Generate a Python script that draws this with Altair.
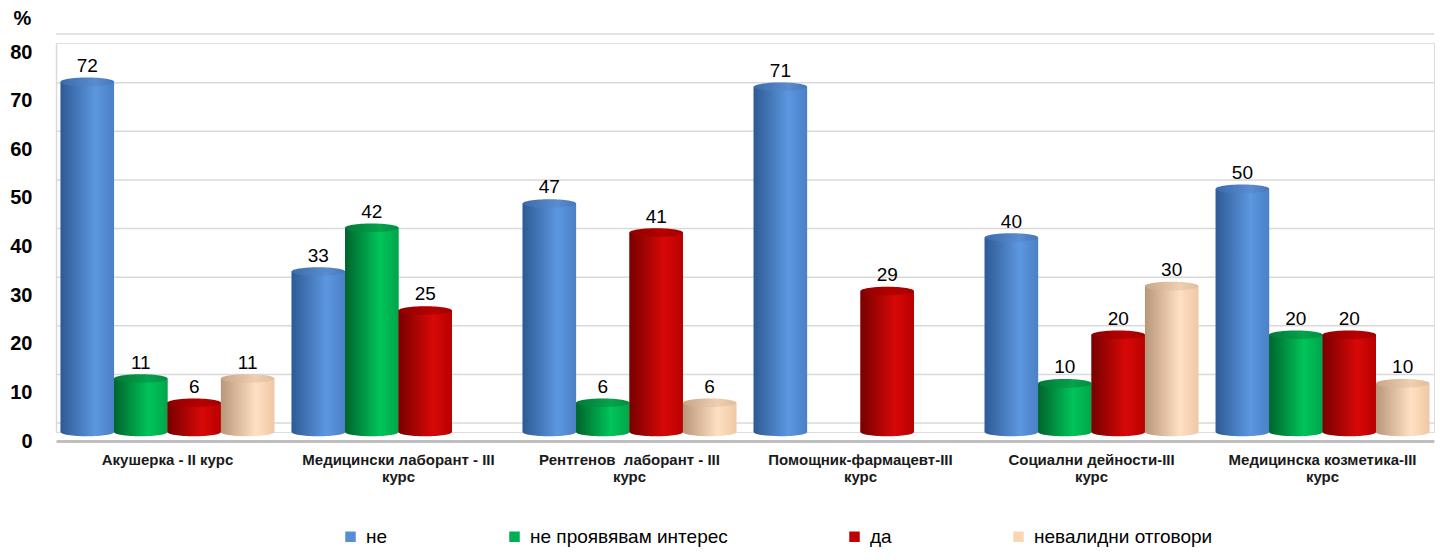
import altair as alt
import pandas as pd

categories = [
    "Акушерка - II курс",
    "Медицински лаборант - III курс",
    "Рентгенов  лаборант - III курс",
    "Помощник-фармацевт-III курс",
    "Социални дейности-III курс",
    "Медицинска козметика-III курс",
]
series = ["не", "не проявявам интерес", "да", "невалидни отговори"]
val_ne = [72, 33, 47, 71, 40, 50]
val_no_interest = [11, 42, 6, None, 10, 20]
val_da = [6, 25, 41, 29, 20, 20]
val_invalid = [11, None, 6, None, 30, 10]
y_ticks = [0, 10, 20, 30, 40, 50, 60, 70, 80]

legend_colors = ["#558ED5", "#00B050", "#C00000", "#FCD5B5"]
# (left dark, highlight, right) for cylinder shading
body_stops = [
    ("#2E5A94", "#5C97E0", "#4A80C6"),
    ("#00642C", "#00C45A", "#00A64A"),
    ("#780000", "#D80808", "#B80000"),
    ("#B8967A", "#FFE0C2", "#EEC8A6"),
]
top_stops = [
    ("#3C6BAA", "#5A8CD0", "#4676B8"),
    ("#007A36", "#06A24C", "#008E40"),
    ("#8E0000", "#B80000", "#A00000"),
    ("#C8A687", "#EFCFAF", "#E0BE9E"),
]

rows = []
for i, c in enumerate(categories):
    for s, vals in zip(series, [val_ne, val_no_interest, val_da, val_invalid]):
        if vals[i] is not None:
            rows.append({"cat": c, "series": s, "value": vals[i]})
df = pd.DataFrame(rows)
grid_df = pd.DataFrame({"v": y_ticks})


def grad(stops):
    a, b, c = stops
    return alt.Gradient(
        gradient="linear",
        x1=0, x2=1, y1=0, y2=0,
        stops=[
            alt.GradientStop(offset=0, color=a),
            alt.GradientStop(offset=0.65, color=b),
            alt.GradientStop(offset=1, color=c),
        ],
    )


label_expr = (
    "indexof(datum.label, 'III') >= 0 ? "
    "[replace(replace(datum.label, ' курс', ''), '  ', ' \u00a0'), 'курс'] : datum.label"
)

X = alt.X(
    "cat:N",
    sort=categories,
    scale=alt.Scale(domain=categories, paddingInner=0.075, paddingOuter=0.02),
    axis=alt.Axis(
        title=None,
        labelAngle=0,
        labelExpr=label_expr,
        labelFont="Liberation Sans",
        labelFontWeight="bold",
        labelFontSize=15,
        labelColor="#1a1a1a",
        labelLineHeight=17,
        labelPadding=11,
        labelBaseline="top",
        ticks=False,
        domainColor="#BFBFBF",
        domainWidth=3,
        offset=9,
        labelLimit=300,
    ),
)
XO = alt.XOffset("series:N", sort=series, scale=alt.Scale(domain=series, paddingInner=0, paddingOuter=0))
Y = alt.Y(
    "value:Q",
    scale=alt.Scale(domain=[0, 80], nice=False, zero=True),
    axis=alt.Axis(
        values=y_ticks,
        grid=False,
        ticks=False,
        labelFont="Liberation Sans",
        labelFontWeight="bold",
        labelFontSize=20,
        labelColor="#000000",
        labelPadding=24,
        labelOffset=9,
        domainColor="#D9D9D9",
        domainWidth=1.5,
        title="%",
        titleAngle=0,
        titleFont="Liberation Sans",
        titleFontSize=20,
        titleFontWeight="bold",
        titleColor="#000000",
        titleX=-34,
        titleY=-25,
        titleAlign="center",
        titleBaseline="middle",
    ),
)

grid = alt.Chart(grid_df).mark_rule(color="#D9D9D9", strokeWidth=1.5, yOffset=-9).encode(
    y=alt.Y("v:Q", scale=alt.Scale(domain=[0, 80], nice=False, zero=True))
)

flat = alt.Chart(df).mark_bar().encode(
    x=X,
    xOffset=XO,
    y=Y,
    color=alt.Color(
        "series:N",
        sort=series,
        scale=alt.Scale(domain=series, range=legend_colors),
        legend=alt.Legend(
            title=None,
            orient="none",
            direction="horizontal",
            legendX=285,
            legendY=484,
            columns=4,
            symbolType="square",
            symbolSize=110,
            symbolStrokeWidth=0,
            labelFont="Liberation Sans",
            labelFontSize=19,
            labelColor="#000000",
            labelOffset=6,
            labelLimit=400,
            columnPadding=117,
            padding=0,
        ),
    ),
)

ellipse = "M-1,0A1,0.16,0,1,0,1,0A1,0.16,0,1,0,-1,0Z"
ellipse_size = 2860

layers = [grid, flat]
for s, bs, ts in zip(series, body_stops, top_stops):
    base = alt.Chart(df).transform_filter(alt.datum.series == s)
    bottom = base.mark_point(
        shape=ellipse, size=ellipse_size, filled=True, fill=grad(bs), strokeWidth=0, opacity=1
    ).encode(x=X, xOffset=XO, y=alt.datum(0))
    body = base.mark_bar(color=grad(bs)).encode(x=X, xOffset=XO, y=Y)
    top = base.mark_point(
        shape=ellipse, size=ellipse_size, filled=True, fill=grad(ts), strokeWidth=0, opacity=1
    ).encode(x=X, xOffset=XO, y=Y)
    layers += [bottom, body, top]

labels = alt.Chart(df).mark_text(
    baseline="alphabetic", dy=-10, fontSize=19, font="Liberation Sans", color="#000000"
).encode(x=X, xOffset=XO, y=Y, text=alt.Text("value:Q"))
layers.append(labels)

chart = (
    alt.layer(*layers)
    .properties(
        width=1378,
        height=389,
        autosize=alt.AutoSizeParams(type="none"),
        padding={"left": 48, "top": 35, "right": 1, "bottom": 120},
    )
    .configure_view(stroke=None)
    .configure(font="Liberation Sans")
)

chart.save("out.html", embed_options={"renderer": "svg", "actions": False})
